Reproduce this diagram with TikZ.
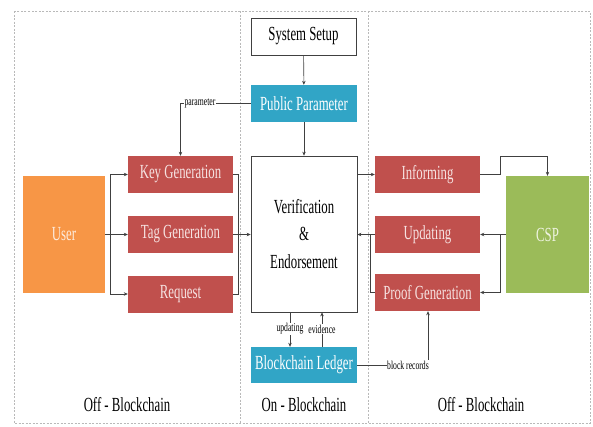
\documentclass[tikz,border=0pt]{standalone}
\usepackage{fontspec}
\setmainfont{Liberation Serif}[FakeStretch=0.64]
\usetikzlibrary{arrows.meta}
\definecolor{boxred}{HTML}{C0504D}
\definecolor{boxblue}{HTML}{31A5C6}
\definecolor{boxorange}{HTML}{F79646}
\definecolor{boxgreen}{HTML}{9BBB59}
\definecolor{txtred}{HTML}{F6E2E1}
\definecolor{txtorange}{HTML}{FDEBDD}
\definecolor{txtgreen}{HTML}{EEF3E0}
\definecolor{linegray}{HTML}{404040}
\begin{document}
\begin{tikzpicture}[x=1pt,y=-1pt,
  base/.style={rectangle, inner sep=0pt, font=\fontsize{20}{27.5}\selectfont, align=center},
  redbox/.style={base, fill=boxred, text=txtred, minimum width=105pt, minimum height=37pt},
  bluebox/.style={base, fill=boxblue, text=white, minimum width=106pt, minimum height=37pt},
  whitebox/.style={base, draw=linegray, line width=0.7pt, fill=white, text=black},
  bigbox/.style={base, minimum width=82pt, minimum height=117pt},
  conn/.style={draw=linegray, line width=0.6pt},
  arr/.style={conn, -{Stealth[length=4pt,width=3.5pt]}},
  small/.style={font=\fontsize{12}{13}\selectfont, fill=white, inner sep=0.5pt, text=black},
  region/.style={font=\fontsize{20}{22}\selectfont, text=black},
  frame/.style={draw=gray!55, line width=0.8pt, dash pattern=on 2pt off 1.5pt}
]
\useasboundingbox (0,0) rectangle (593,426);
% frame and dividers
\draw[frame] (14,11) rectangle (590,423);
\draw[frame] (240,11) -- (240,423);
\draw[frame] (368,11) -- (368,423);

% nodes
\node[whitebox, minimum width=105pt, minimum height=37pt] (sys) at (303.5,36.5) {System Setup};
\node[bluebox] (pub) at (304,103.5) {Public Parameter};
\node[whitebox, minimum width=106pt, minimum height=156pt] (ver) at (304,234) {Verification\\\&\\Endorsement};
\node[redbox] (key) at (180.5,174.5) {Key Generation};
\node[redbox] (tag) at (180.5,234.5) {Tag Generation};
\node[redbox] (req) at (180.5,294) {Request};
\node[bigbox, fill=boxorange, text=txtorange] (user) at (64,234.5) {User};
\node[redbox] (inf) at (427.5,174.5) {Informing};
\node[redbox] (upd) at (427.5,234.5) {Updating};
\node[redbox] (prf) at (427.5,292.5) {Proof Generation};
\node[bigbox, minimum width=83pt, fill=boxgreen, text=txtgreen] (csp) at (547.5,234.5) {CSP};
\node[bluebox, minimum height=36pt] (led) at (304,365) {Blockchain Ledger};

\coordinate (pc) at (180.5,103.5);
\coordinate (ub) at (110,234.5);
\coordinate (kr) at (238,174.5);
\coordinate (ia) at (500,174.5);
\coordinate (ib) at (500,156);
\coordinate (ic) at (547.5,156);
\coordinate (cb) at (500,234.5);
\coordinate (pl) at (370,292.5);
\coordinate (br) at (428,365);

% top chain
\draw[arr] (sys) -- (pub);
\draw[arr] (pub) -- (ver);
\draw[arr] (pub.west) -- (pc) -- (key.north);
\node[small] (lpar) at (200,103.5) {parameter};

% user side
\draw[arr] (user.east) -- (tag.west);
\draw[arr] (ub) |- (key.west);
\draw[arr] (ub) |- (req.west);
\draw[conn] (key.east) -- (kr) |- (req.east);
\draw[arr] (tag.east) -- (ver.west |- tag.east);

% right side
\draw[arr] (ver.east |- inf.west) -- (inf.west);
\draw[arr] (inf.east) -- (ia) -- (ib) -- (ic) -- (csp.north);
\draw[arr] (csp.west) -- (upd.east);
\draw[arr] (cb) |- (prf.east);
\draw[arr] (upd.west) -- (ver.east |- upd.west);
\draw[conn] (prf.west) -- (pl) |- (upd.west -| pl);

% ledger
\draw[arr] (ver.south -| 290,0) -- (led.north -| 290,0);
\draw[arr] (led.north -| 322,0) -- (ver.south -| 322,0);
\node[small] (lupd) at (290,329) {updating};
\node[small] (levi) at (322,329) {evidence};
\draw[arr] (led.east) -- (br) -- (prf.south -| br);
\node[small] (lblk) at (408,365) {block records};

% region labels
\node[region] (off1) at (127,405) {Off - Blockchain};
\node[region] (on) at (304,405) {On - Blockchain};
\node[region] (off2) at (481,405) {Off - Blockchain};
\end{tikzpicture}
\end{document}
